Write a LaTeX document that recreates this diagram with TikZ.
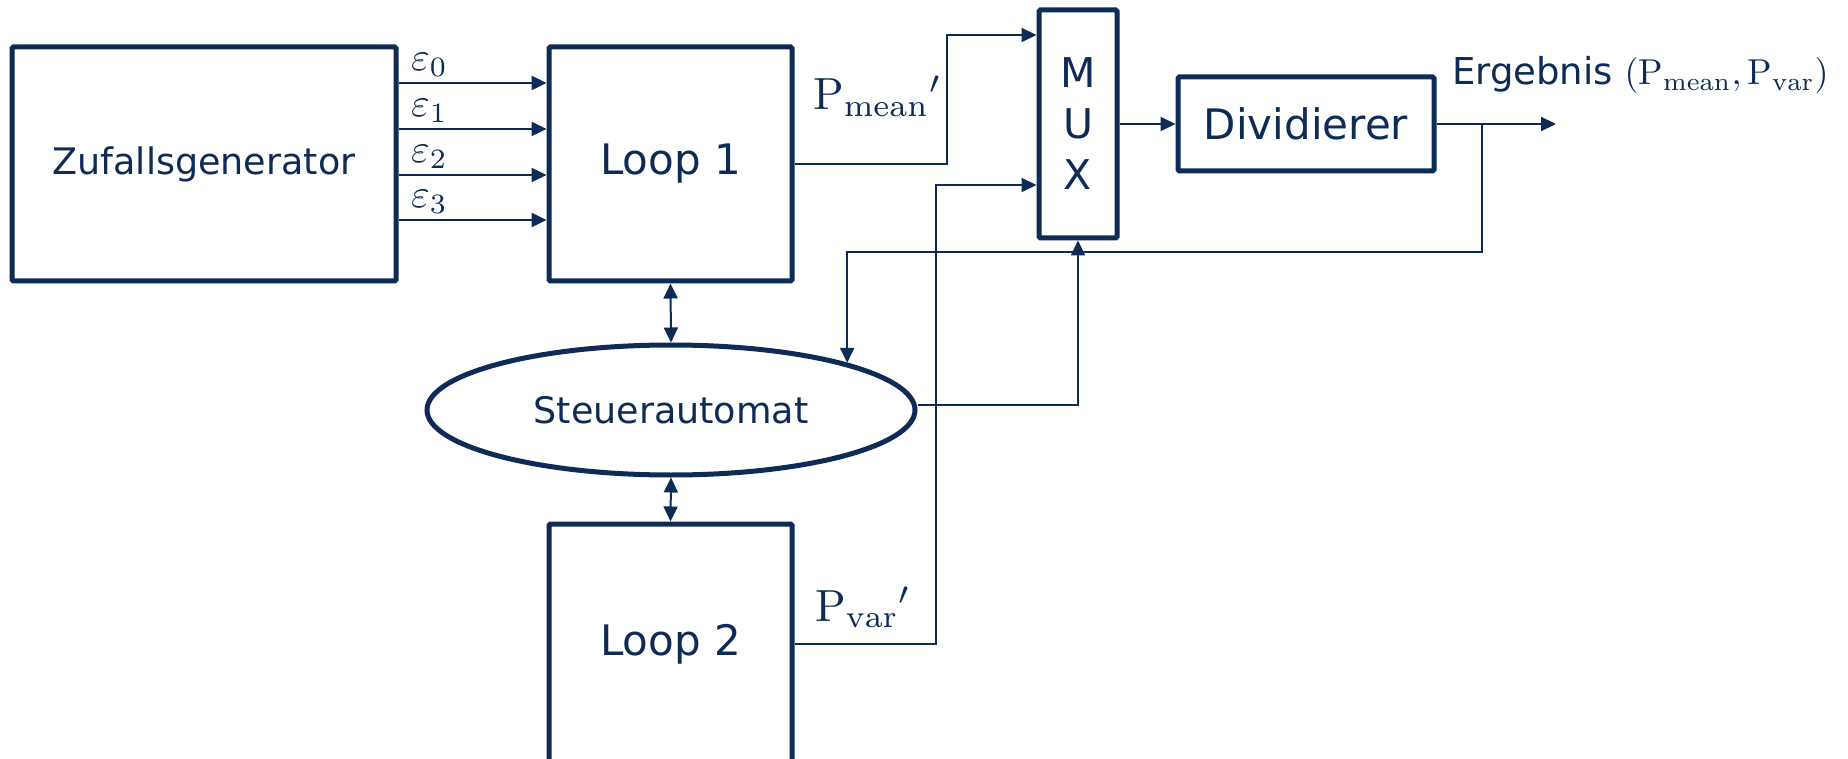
\documentclass[tikz,border=0pt]{standalone}
\usepackage{fontspec}
\newfontfamily\dvs{DejaVu Sans}
\usetikzlibrary{arrows.meta,shapes.geometric}
\definecolor{navy}{RGB}{13,43,85}
\begin{document}
\begin{tikzpicture}[x=1pt,y=-1pt,
  blk/.style={draw=navy,line width=5pt,rounded corners=1.5pt,inner sep=0pt,text=navy},
  wire/.style={draw=navy,line width=2pt},
  tip/.style={-{Triangle[length=15pt,width=14pt]}},
  dtip/.style={{Triangle[length=15pt,width=14pt]}-{Triangle[length=15pt,width=14pt]}},
  lab/.style={text=navy,inner sep=0pt,anchor=base west}
]
\fill[white] (0,0) rectangle (1848,759);
\useasboundingbox (0,0) rectangle (1848,759);

% blocks
\node[blk,minimum width=384pt,minimum height=234pt,font=\dvs\fontsize{36.5}{44}\selectfont] (zg) at (204,164) {Zufallsgenerator};
\node[blk,minimum width=243pt,minimum height=234pt,font=\dvs\fontsize{42}{50}\selectfont] (l1) at (670.5,164) {Loop 1};
\node[blk,minimum width=78pt,minimum height=228pt,align=center,font=\dvs\fontsize{41}{51}\selectfont] (mux) at (1078,124) {M\\U\\X};
\node[blk,minimum width=256pt,minimum height=94pt,font=\dvs\fontsize{42}{50}\selectfont] (div) at (1306,124) {Dividierer};
\node[blk,ellipse,minimum width=488pt,minimum height=130pt,font=\dvs\fontsize{36.5}{44}\selectfont] (st) at (671,410) {Steuerautomat};
\node[blk,minimum width=243pt,minimum height=240pt,font=\dvs\fontsize{42}{50}\selectfont] (l2) at (670.5,644) {Loop 2};

% helper coordinates
\coordinate (e0) at (0,83);
\coordinate (e1) at (0,129);
\coordinate (e2) at (0,175);
\coordinate (e3) at (0,220);
\coordinate (k1) at (947,35);
\coordinate (k2) at (936,185);
\coordinate (out) at (1556,124);
\coordinate (fb) at (1482,252);

% epsilon signals
\draw[wire,line width=2.5pt,tip] (zg.east |- e0) -- (l1.west |- e0);
\draw[wire,line width=2.5pt,tip] (zg.east |- e1) -- (l1.west |- e1);
\draw[wire,line width=2.5pt,tip] (zg.east |- e2) -- (l1.west |- e2);
\draw[wire,line width=2.5pt,tip] (zg.east |- e3) -- (l1.west |- e3);
\node[lab] (le0) at (411,71) {\scalebox{4}{$\varepsilon_0$}};
\node[lab] (le1) at (411,117) {\scalebox{4}{$\varepsilon_1$}};
\node[lab] (le2) at (411,163) {\scalebox{4}{$\varepsilon_2$}};
\node[lab] (le3) at (411,208) {\scalebox{4}{$\varepsilon_3$}};

% loop outputs to MUX
\draw[wire,tip] (l1.east) -| (k1) -- (mux.west |- k1);
\draw[wire,tip] (l2.east) -| (k2) -- (mux.west |- k2);
\node[lab] (lpm) at (813,110) {\scalebox{4.5}{$\mathrm{P}_{\mathrm{mean}}{}'$}};
\node[lab] (lpv) at (815,621) {\scalebox{4.5}{$\mathrm{P}_{\mathrm{var}}{}'$}};

% MUX -> Dividierer -> output
\draw[wire,tip] (mux.east |- div.west) -- (div.west);
\draw[wire,tip] (div.east) -- (out);
\node[lab] (erg) at (1452,85) {{\dvs\fontsize{37}{44}\selectfont Ergebnis\ }\scalebox{3.6}{$(\mathrm{P}_{\mathrm{mean}},\mathrm{P}_{\mathrm{var}})$}};

% feedback to Steuerautomat
\draw[wire,tip] (div.east -| fb) -- (fb) -| (st.15);

% Steuerautomat -> MUX select
\draw[wire,tip] ([yshift=5pt]st.east) -| (mux.south);

% bidirectional links
\draw[wire,dtip] (l1.south) -- (st.north);
\draw[wire,dtip] (st.south) -- (l2.north);
\end{tikzpicture}
\end{document}
